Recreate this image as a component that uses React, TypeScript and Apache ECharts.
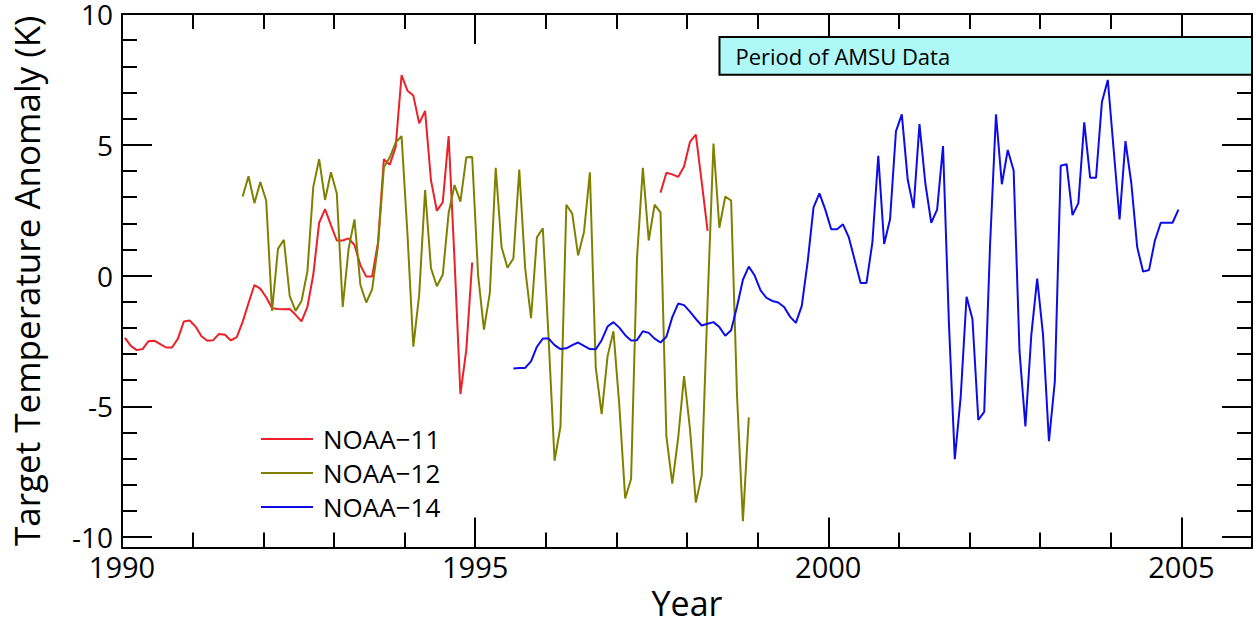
import React, { useEffect, useRef } from "react";
import * as echarts from "echarts";

// Axis extents and tick positions
const X_MIN = 1990;
const X_MAX = 2006;
const Y_MIN = -10.4;
const Y_MAX = 10;
const majorYears = [1990, 1995, 2000, 2005];
const minorYears = [1990, 1991, 1992, 1993, 1994, 1995, 1996, 1997, 1998, 1999, 2000, 2001, 2002, 2003, 2004, 2005, 2006];
const majorTemps = [-10, -5, 0, 5, 10];
const minorTemps = [-10, -9, -8, -7, -6, -5, -4, -3, -2, -1, 0, 1, 2, 3, 4, 5, 6, 7, 8, 9, 10];

const seriesNames = ["NOAA\u221211", "NOAA\u221212", "NOAA\u221214"];
const seriesColors = ["#ec2028", "#808000", "#0c0ce8"];

// Monthly anomalies (K); each start value is the month index counted from Jan 1990
const noaa11EarlyStart = 0;
const noaa11Early = [
  -2.38, -2.69, -2.85, -2.81, -2.51, -2.49, -2.62, -2.75, -2.75, -2.41,
  -1.76, -1.72, -1.95, -2.32, -2.49, -2.47, -2.23, -2.26, -2.48, -2.35,
  -1.77, -1.05, -0.36, -0.5, -0.83, -1.25, -1.28, -1.29, -1.28, -1.5,
  -1.75, -1.2, 0.03, 2.02, 2.54, 1.93, 1.34, 1.34, 1.42, 1.17,
  0.4, -0.04, -0.04, 1.27, 4.45, 4.24, 4.92, 7.66, 7.07, 6.88,
  5.82, 6.29, 3.64, 2.48, 2.8, 5.33, 0.6, -4.53, -2.84, 0.5,
];

const noaa11LateStart = 91;
const noaa11Late = [3.17, 3.93, 3.87, 3.77, 4.17, 5.11, 5.39, 3.58, 1.71];

const noaa12Start = 20;
const noaa12 = [
  3.02, 3.8, 2.77, 3.58, 2.87, -1.35, 1.02, 1.37, -0.79, -1.35,
  -0.97, 0.15, 3.39, 4.45, 2.89, 3.95, 3.14, -1.2, 1.02, 2.15,
  -0.35, -1.03, -0.53, 1.15, 4.14, 4.52, 5.08, 5.33, 1.6, -2.72,
  -0.72, 3.27, 0.28, -0.41, 0.03, 2.39, 3.46, 2.83, 4.52, 4.53,
  0.03, -2.07, -0.66, 4.12, 1.08, 0.3, 0.65, 4.05, 0.28, -1.63,
  1.46, 1.81, -2.47, -7.08, -5.77, 2.71, 2.37, 0.77, 1.67, 3.95,
  -3.53, -5.3, -3.09, -2.13, -4.96, -8.52, -7.77, 0.65, 4.12, 1.34,
  2.71, 2.42, -6.15, -7.95, -6.21, -3.84, -5.84, -8.68, -7.64, -1.0,
  5.05, 1.83, 3.02, 2.87, -4.59, -9.39, -5.42,
];

const noaa14Start = 66;
const noaa14 = [
  -3.55, -3.53, -3.53, -3.28,
  -2.72, -2.41, -2.41, -2.66, -2.81, -2.78, -2.66, -2.56, -2.69, -2.81,
  -2.82, -2.47, -1.95, -1.78, -1.99, -2.28, -2.48, -2.47, -2.13, -2.19,
  -2.41, -2.56, -2.34, -1.59, -1.07, -1.13, -1.38, -1.66, -1.91, -1.84,
  -1.78, -1.97, -2.3, -2.09, -1.18, -0.16, 0.34, 0.0, -0.57, -0.85,
  -0.97, -1.03, -1.2, -1.57, -1.81, -1.16, 0.52, 2.61, 3.14, 2.52,
  1.77, 1.77, 1.96, 1.46, 0.59, -0.28, -0.28, 1.27, 4.58, 1.21,
  2.15, 5.51, 6.16, 3.67, 2.58, 5.79, 3.52, 2.02, 2.52, 4.95,
  -1.8, -7.02, -4.65, -0.81, -1.66, -5.52, -5.21, 1.2, 6.16, 3.49,
  4.8, 4.02, -2.9, -5.77, -2.28, -0.12, -2.28, -6.33, -4.05, 4.2,
  4.26, 2.31, 2.77, 5.86, 3.74, 3.74, 6.64, 7.48, 4.8, 2.15,
  5.14, 3.52, 1.08, 0.15, 0.21, 1.34, 2.02, 2.02, 2.02, 2.52,
];

// Shaded band marking the AMSU record
const amsuLabel = "Period of AMSU Data";
const amsuYears = [1998.46, 2006];
const amsuBand = [7.68, 9.12];

const FONT = "'Open Sans', 'Noto Sans', sans-serif";

// Each value sits at the middle of its month
const toPoints = (start: number, values: number[]) =>
  values.map((v, k) => [X_MIN + (start + k + 0.5) / 12, v]);

const axisLineStyle = { color: "#000", width: 2 };
const plain = (v: number) => String(v);

function buildOption(): echarts.EChartsOption {
  const lineSeries = (name: string, color: string, data: number[][], extra: any = {}) => ({
    type: "line",
    name,
    data,
    showSymbol: false,
    symbol: "none",
    xAxisIndex: 0,
    yAxisIndex: 0,
    lineStyle: { color, width: 2 },
    itemStyle: { color },
    clip: true,
    z: 3,
    ...extra,
  });

  const xAxisBase = {
    type: "value" as const,
    min: X_MIN,
    max: X_MAX,
    splitLine: { show: false },
  };
  const yAxisBase = {
    type: "value" as const,
    min: Y_MIN,
    max: Y_MAX,
    splitLine: { show: false },
  };
  const solidLine = { show: true, onZero: false, lineStyle: axisLineStyle };
  const noLine = { show: false, onZero: false };

  return {
    animation: false,
    backgroundColor: "#fff",
    textStyle: { fontFamily: FONT },
    grid: { left: 122, top: 13, width: 1130, height: 546, containLabel: false },
    legend: {
      orient: "vertical",
      left: 261,
      top: 426,
      padding: 0,
      itemWidth: 52,
      itemHeight: 2,
      itemGap: 8,
      icon: "rect",
      data: seriesNames,
      textStyle: { fontSize: 26, fontFamily: FONT, color: "#000", padding: [0, 0, 0, 5] },
    },
    xAxis: [
      {
        ...xAxisBase,
        position: "bottom",
        name: "Year",
        nameLocation: "middle",
        nameGap: 30,
        nameTextStyle: { fontSize: 34, fontFamily: FONT, color: "#000", verticalAlign: "top" },
        axisLine: solidLine,
        axisTick: { show: true, inside: true, length: 30, customValues: majorYears, lineStyle: axisLineStyle },
        axisLabel: { show: true, customValues: majorYears, formatter: plain, fontSize: 29, lineHeight: 26, fontFamily: FONT, color: "#000", margin: 6 },
      },
      {
        ...xAxisBase,
        position: "bottom",
        axisLine: noLine,
        axisTick: { show: true, inside: true, length: 15, customValues: minorYears, lineStyle: axisLineStyle },
        axisLabel: { show: false },
      },
      {
        ...xAxisBase,
        position: "top",
        axisLine: solidLine,
        axisTick: { show: true, inside: true, length: 30, customValues: majorYears, lineStyle: axisLineStyle },
        axisLabel: { show: false },
      },
      {
        ...xAxisBase,
        position: "top",
        axisLine: noLine,
        axisTick: { show: true, inside: true, length: 15, customValues: minorYears, lineStyle: axisLineStyle },
        axisLabel: { show: false },
      },
    ],
    yAxis: [
      {
        ...yAxisBase,
        position: "left",
        name: "Target Temperature Anomaly (K)",
        nameLocation: "middle",
        nameGap: 78,
        nameTextStyle: { fontSize: 35, fontFamily: FONT, color: "#000" },
        axisLine: solidLine,
        axisTick: { show: true, inside: true, length: 30, customValues: majorTemps, lineStyle: axisLineStyle },
        axisLabel: { show: true, customValues: majorTemps, formatter: plain, fontSize: 28, lineHeight: 24, fontFamily: FONT, color: "#000", margin: 9 },
      },
      {
        ...yAxisBase,
        position: "left",
        axisLine: noLine,
        axisTick: { show: true, inside: true, length: 15, customValues: minorTemps, lineStyle: axisLineStyle },
        axisLabel: { show: false },
      },
      {
        ...yAxisBase,
        position: "right",
        axisLine: solidLine,
        axisTick: { show: true, inside: true, length: 30, customValues: majorTemps, lineStyle: axisLineStyle },
        axisLabel: { show: false },
      },
      {
        ...yAxisBase,
        position: "right",
        axisLine: noLine,
        axisTick: { show: true, inside: true, length: 15, customValues: minorTemps, lineStyle: axisLineStyle },
        axisLabel: { show: false },
      },
    ],
    series: [
      lineSeries(seriesNames[0], seriesColors[0], toPoints(noaa11EarlyStart, noaa11Early)),
      lineSeries(seriesNames[0], seriesColors[0], toPoints(noaa11LateStart, noaa11Late)),
      lineSeries(seriesNames[1], seriesColors[1], toPoints(noaa12Start, noaa12)),
      lineSeries(seriesNames[2], seriesColors[2], toPoints(noaa14Start, noaa14), {
        markArea: {
          silent: true,
          z: 1,
          itemStyle: { color: "#aef8f8", borderColor: "#000", borderWidth: 2 },
          label: {
            show: true,
            position: "insideLeft",
            distance: 17,
            fontSize: 22,
            fontFamily: FONT,
            color: "#000",
          },
          data: [
            [
              { name: amsuLabel, xAxis: amsuYears[0], yAxis: amsuBand[1] },
              { xAxis: amsuYears[1], yAxis: amsuBand[0] },
            ],
          ],
        },
      }),
    ],
  } as any;
}

export default function App() {
  const ref = useRef<HTMLDivElement>(null);

  useEffect(() => {
    if (!ref.current) return;
    const chart = echarts.init(ref.current, undefined, { renderer: "svg" });
    chart.setOption(buildOption());
    return () => chart.dispose();
  }, []);

  return (
    <div
      ref={ref}
      style={{ position: "fixed", left: 0, top: 0, width: 1255, height: 625, background: "#fff" }}
    />
  );
}
